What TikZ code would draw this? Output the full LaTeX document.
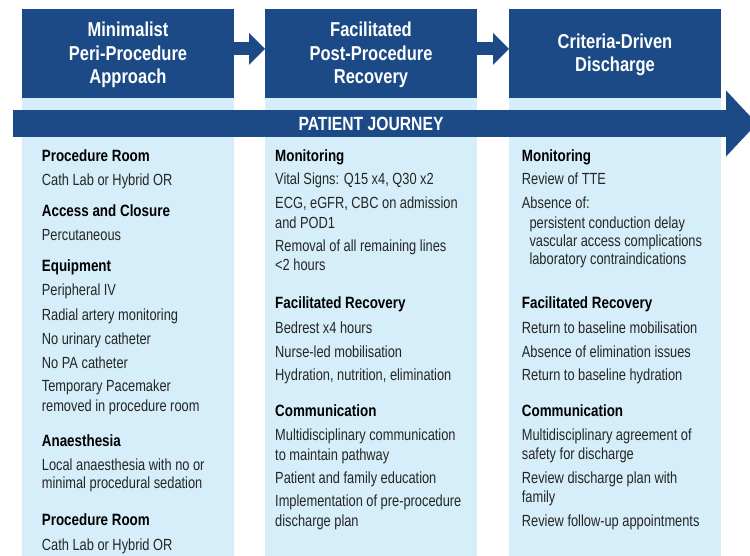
\documentclass[tikz,border=0pt]{standalone}
\usepackage{fontspec}
\setmainfont{Liberation Sans}[FakeStretch=0.82]
\newfontfamily\itemfont{Liberation Sans}[FakeStretch=0.795]
\usetikzlibrary{arrows.meta}

\definecolor{navy}{HTML}{1B4A87}
\definecolor{paleblue}{HTML}{D5EEFA}
\definecolor{ink}{HTML}{262626}

\begin{document}
\begin{tikzpicture}[x=1bp,y=-1bp,
  panel/.style={fill=paleblue},
  stagebox/.style={fill=navy, draw=none, minimum width=212bp, minimum height=88.7bp,
    inner sep=0pt, outer sep=0pt},
  stagetext/.style={text=white, align=center, inner sep=0pt,
    font=\fontsize{20.2}{24}\selectfont\bfseries},
  hd/.style={anchor=base west, inner sep=0pt, text=black,
    font=\fontsize{16.4}{19}\selectfont\bfseries},
  itm/.style={anchor=base west, inner sep=0pt, text=ink,
    font=\itemfont\fontsize{16.2}{19}\selectfont},
  stepline/.style={draw=navy, line width=13bp,
    -{Triangle[width=31bp,length=16bp]}},
  journey/.style={draw=navy, line width=27bp,
    -{Triangle[width=64.3bp,length=31bp]}}
]
\useasboundingbox (0,0) rectangle (750,556);

% light column panels
\fill[panel] (22,97.7) rectangle (234,556);
\fill[panel] (265,97.7) rectangle (477,556);
\fill[panel] (509,97.7) rectangle (721,556);

% stage headers
\node[stagebox] (h1) at (128,53.35) {};
\node[stagebox] (h2) at (371,53.35) {};
\node[stagebox] (h3) at (615,53.35) {};
\node[stagetext] (t1) at ([yshift=-1.5bp]h1.center) {Minimalist\\Peri-Procedure\\Approach};
\node[stagetext] (t2) at ([yshift=-1.5bp]h2.center) {Facilitated\\Post-Procedure\\Recovery};
\node[stagetext] (t3) at ([yshift=-1.5bp]h3.center) {Criteria-Driven\\Discharge};

% arrows between stages
\draw[stepline] ([yshift=4.4bp]h1.east) -- ([yshift=4.4bp]h2.west);
\draw[stepline] ([yshift=4.4bp]h2.east) -- ([yshift=4.4bp]h3.west);

% patient journey arrow
\coordinate (js) at (13.3,123.5);
\coordinate (je) at (757,123.5);
\draw[journey] (js) -- (je);
\node[text=white, inner sep=0pt, font=\fontsize{19.2}{22}\selectfont\bfseries]
  (pj) at (371,123.5) {PATIENT JOURNEY};

% column 1
\node[hd]  (a1)  at (41.7,161.7) {Procedure Room};
\node[itm] (a2)  at (41.7,186)   {Cath Lab or Hybrid OR};
\node[hd]  (a3)  at (41.7,216.7) {Access and Closure};
\node[itm] (a4)  at (41.7,241)   {Percutaneous};
\node[hd]  (a5)  at (41.7,271.7) {Equipment};
\node[itm] (a6)  at (41.7,296)   {Peripheral IV};
\node[itm] (a7)  at (41.7,320)   {Radial artery monitoring};
\node[itm] (a8)  at (41.7,344)   {No urinary catheter};
\node[itm] (a9)  at (41.7,368.3) {No PA catheter};
\node[itm] (a10) at (41.7,391.7) {Temporary Pacemaker};
\node[itm] (a11) at (41.7,411)   {removed in procedure room};
\node[hd]  (a12) at (41.7,446)   {Anaesthesia};
\node[itm] (a13) at (41.7,470)   {Local anaesthesia with no or};
\node[itm] (a14) at (41.7,488.3) {minimal procedural sedation};
\node[hd]  (a15) at (41.7,525.7) {Procedure Room};
\node[itm] (a16) at (41.7,550)   {Cath Lab or Hybrid OR};

% column 2
\node[hd]  (b1)  at (275,161.7) {Monitoring};
\node[itm] (b2)  at (275,185)   {Vital Signs: Q15 x4, Q30 x2};
\node[itm] (b3)  at (275,208.3) {ECG, eGFR, CBC on admission};
\node[itm] (b4)  at (275,228.3) {and POD1};
\node[itm] (b5)  at (275,251.7) {Removal of all remaining lines};
\node[itm] (b6)  at (275,271)   {<2 hours};
\node[hd]  (b7)  at (275,308.3) {Facilitated Recovery};
\node[itm] (b8)  at (275,333.3) {Bedrest x4 hours};
\node[itm] (b9)  at (275,357.3) {Nurse-led mobilisation};
\node[itm] (b10) at (275,380.7) {Hydration, nutrition, elimination};
\node[hd]  (b11) at (275,416.7) {Communication};
\node[itm] (b12) at (275,440.7) {Multidisciplinary communication};
\node[itm] (b13) at (275,460)   {to maintain pathway};
\node[itm] (b14) at (275,483.3) {Patient and family education};
\node[itm] (b15) at (275,506.7) {Implementation of pre-procedure};
\node[itm] (b16) at (275,526.7) {discharge plan};

% column 3
\node[hd]  (c1)  at (521.7,161.7) {Monitoring};
\node[itm] (c2)  at (521.7,185)   {Review of TTE};
\node[itm] (c3)  at (521.7,208.3) {Absence of:};
\node[itm] (c4)  at (529.3,228.3) {persistent conduction delay};
\node[itm] (c5)  at (529.3,246.7) {vascular access complications};
\node[itm] (c6)  at (529.3,265)   {laboratory contraindications};
\node[hd]  (c7)  at (521.7,308.3) {Facilitated Recovery};
\node[itm] (c8)  at (521.7,333.3) {Return to baseline mobilisation};
\node[itm] (c9)  at (521.7,357.3) {Absence of elimination issues};
\node[itm] (c10) at (521.7,380.7) {Return to baseline hydration};
\node[hd]  (c11) at (521.7,416.7) {Communication};
\node[itm] (c12) at (521.7,440.7) {Multidisciplinary agreement of};
\node[itm] (c13) at (521.7,459.3) {safety for discharge};
\node[itm] (c14) at (521.7,483.3) {Review discharge plan with};
\node[itm] (c15) at (521.7,502.7) {family};
\node[itm] (c16) at (521.7,526.7) {Review follow-up appointments};
\end{tikzpicture}
\end{document}
